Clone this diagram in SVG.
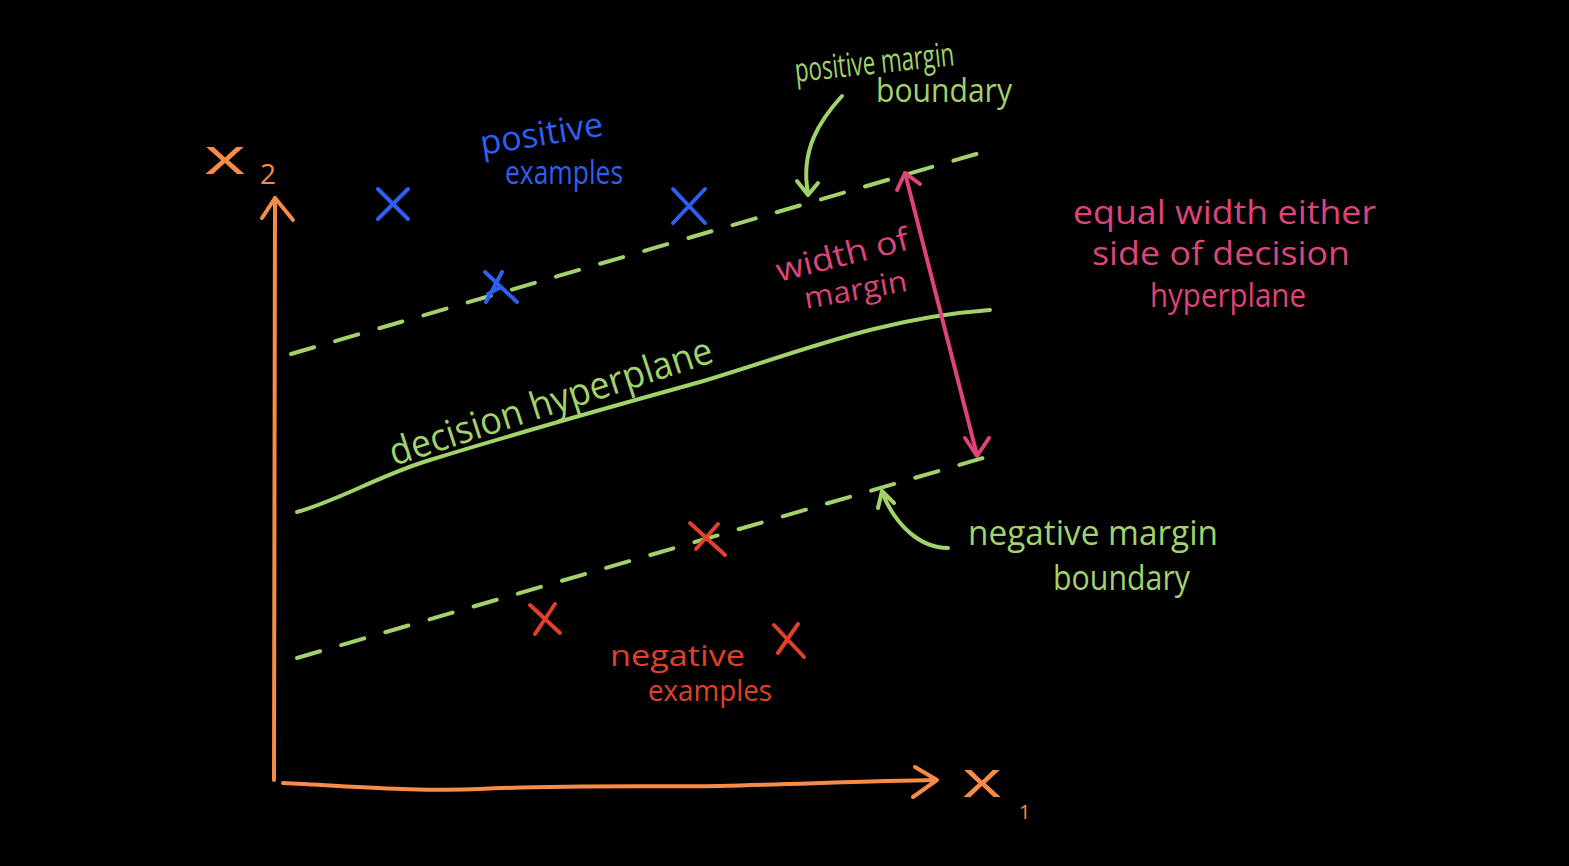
<svg xmlns="http://www.w3.org/2000/svg" width="1569" height="866" viewBox="0 0 1569 866">
<style>
.s{fill:none;stroke-linecap:round;stroke-linejoin:round;stroke-width:4}
.o{stroke:#f68c45}.g{stroke:#a3d16a}.b{stroke:#2d5ff2}.r{stroke:#e0412a}.p{stroke:#dd4477}
.d{stroke-dasharray:24 22}
text{font-family:"Open Sans","Liberation Sans",sans-serif}
.tg{fill:#a3d16a}.tb{fill:#2d5ff2}.tr{fill:#e0412a}.tp{fill:#dd4477}.to{fill:#f68c45}
</style>
<rect width="1569" height="866" fill="#000"/>
<g id="axes">
<path class="s o" d="M274,780 L275,198"/>
<path class="s o" d="M262,218 L275,198 L293,220"/>
<path class="s o" d="M283,783 C350,786 420,792 480,789 C560,785 640,787 720,786 C800,784 870,781 936,780"/>
<path class="s o" d="M915,767 L937,780 L913,797"/>
<text class="to" x="204" y="174" style="font-size:52px" textLength="42" lengthAdjust="spacingAndGlyphs">x</text>
<text class="to" x="260" y="184" style="font-size:28px">2</text>
<text class="to" x="962" y="797" style="font-size:52px" textLength="40" lengthAdjust="spacingAndGlyphs">x</text>
<text class="to" x="1019" y="819" style="font-size:20px">1</text>
</g>
<g id="connectors">
<path class="s g d" d="M291,354 L990,150"/>
<path class="s g" d="M297,512 C340,500 380,475 430,460 C520,432 600,410 700,382 C800,352 880,318 990,310"/>
<path class="s g d" d="M297,658 L990,456"/>
<path class="s p" d="M905,173 L977,455"/>
<path class="s p" d="M897,190 L905,173 L920,184"/>
<path class="s p" d="M965,438 L977,456 L989,438"/>
<path class="s g" d="M842,96 C820,120 800,150 808,193"/>
<path class="s g" d="M797,181 L808,195 L818,183"/>
<path class="s g" d="M948,548 C920,548 895,525 882,492"/>
<path class="s g" d="M878,508 L882,491 L894,503"/>
</g>
<g id="positive-examples">
<path class="s b" d="M378,189 L408,219 M408,189 L378,219"/>
<path class="s b" d="M673,189 L705,223 M705,189 L673,223"/>
<path class="s b" d="M485,272 L517,302 M502,272 L486,302 M501,287 L488,294"/>
<text class="tb" transform="translate(482,155) rotate(-9)" style="font-size:34px" textLength="124" lengthAdjust="spacingAndGlyphs">positive</text>
<text class="tb" x="505" y="184" style="font-size:32px" textLength="118" lengthAdjust="spacingAndGlyphs">examples</text>
</g>
<g id="negative-examples">
<path class="s r" d="M530,605 L560,633 M555,604 L535,634"/>
<path class="s r" d="M690,523 L725,555 M718,524 L696,549"/>
<path class="s r" d="M774,625 L804,657 M798,624 L778,653"/>
<text class="tr" x="610" y="666" style="font-size:30px" textLength="135" lengthAdjust="spacingAndGlyphs">negative</text>
<text class="tr" x="648" y="701" style="font-size:29px" textLength="124" lengthAdjust="spacingAndGlyphs">examples</text>
</g>
<g id="decision-hyperplane-label">
<text class="tg" transform="translate(394,466) rotate(-18)" style="font-size:38px" textLength="338" lengthAdjust="spacingAndGlyphs">decision hyperplane</text>
</g>
<g id="positive-margin-label">
<text class="tg" transform="translate(796,82) rotate(-6)" style="font-size:33px" textLength="160" lengthAdjust="spacingAndGlyphs">positive margin</text>
<text class="tg" x="876" y="102" style="font-size:32px" textLength="136" lengthAdjust="spacingAndGlyphs">boundary</text>
</g>
<g id="negative-margin-label">
<text class="tg" x="968" y="545" style="font-size:34px" textLength="250" lengthAdjust="spacingAndGlyphs">negative margin</text>
<text class="tg" x="1053" y="590" style="font-size:34px" textLength="137" lengthAdjust="spacingAndGlyphs">boundary</text>
</g>
<g id="width-label">
<text class="tp" transform="translate(779,282) rotate(-14)" style="font-size:32px" textLength="136" lengthAdjust="spacingAndGlyphs">width of</text>
<text class="tp" transform="translate(806,309) rotate(-10)" style="font-size:30px" textLength="104" lengthAdjust="spacingAndGlyphs">margin</text>
</g>
<g id="equal-width-label">
<text class="tp" x="1073" y="224" style="font-size:33px" textLength="303" lengthAdjust="spacingAndGlyphs">equal width either</text>
<text class="tp" x="1092" y="265" style="font-size:32px" textLength="258" lengthAdjust="spacingAndGlyphs">side of decision</text>
<text class="tp" x="1150" y="307" style="font-size:32px" textLength="156" lengthAdjust="spacingAndGlyphs">hyperplane</text>
</g>
</svg>
